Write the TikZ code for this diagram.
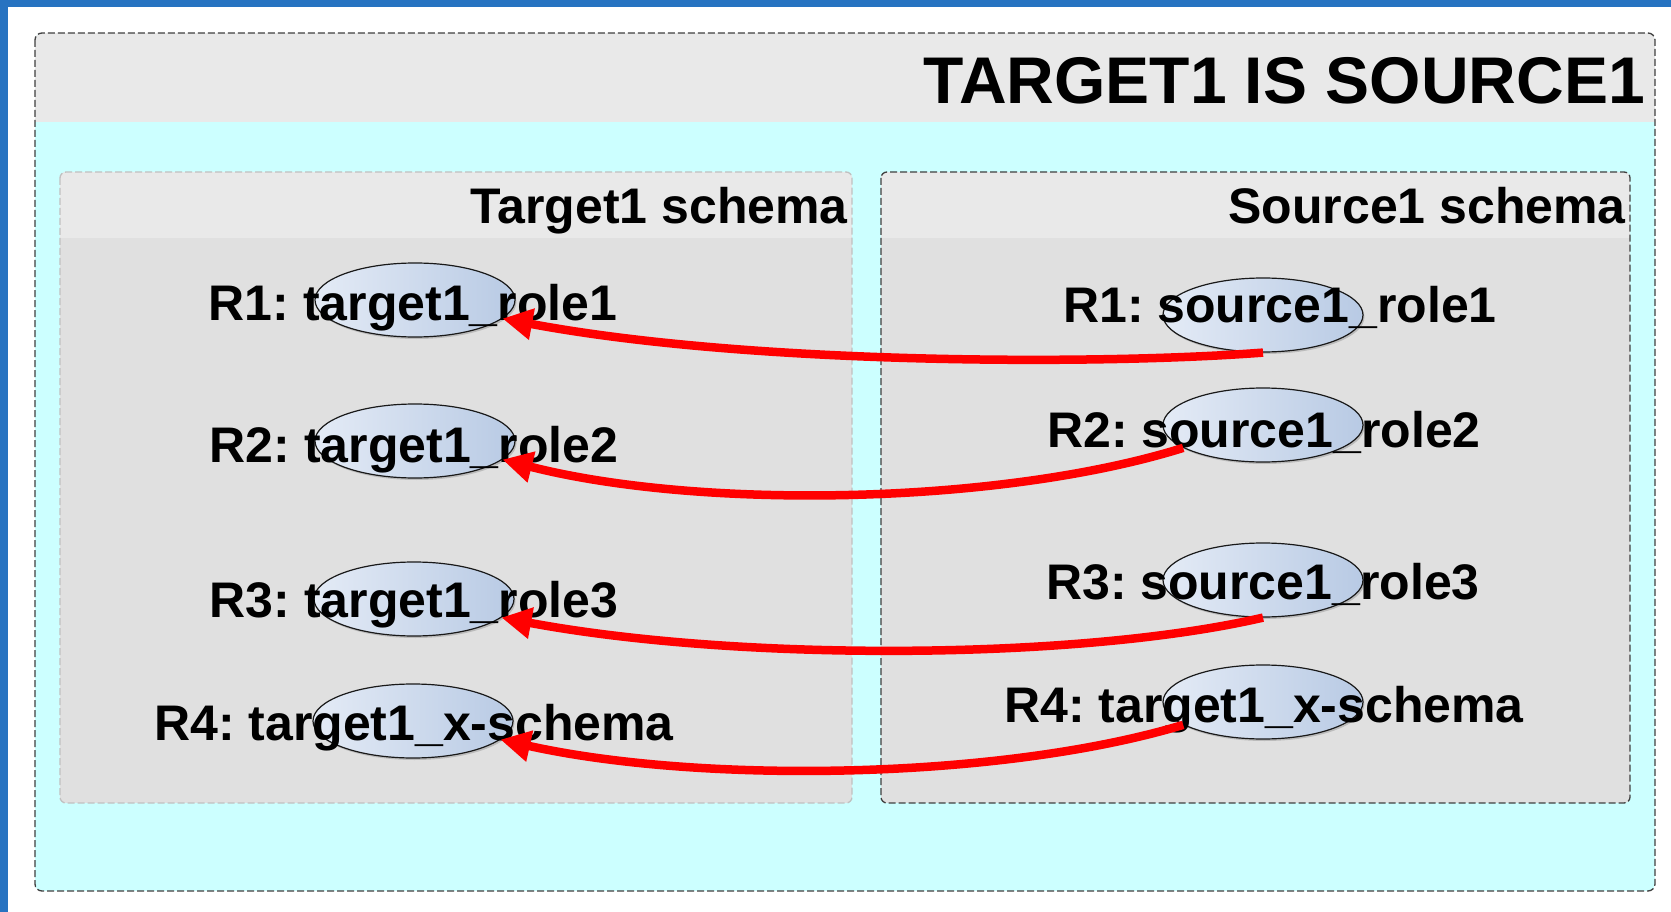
\documentclass[tikz,border=0pt]{standalone}
\usepackage{fontspec}
\setmainfont{Liberation Sans}
\usetikzlibrary{arrows.meta,shapes.geometric,shadows}
\definecolor{bandblue}{RGB}{39,115,193}
\definecolor{hdrgrey}{RGB}{233,233,233}
\definecolor{bodygrey}{RGB}{224,224,224}
\definecolor{cyanbg}{RGB}{204,255,255}
\definecolor{dashdark}{RGB}{64,64,64}
\definecolor{dashlight}{RGB}{192,192,192}
\definecolor{ellL}{RGB}{228,235,246}
\definecolor{ellR}{RGB}{184,202,228}
\frenchspacing
\begin{document}
\begin{tikzpicture}[x=1pt,y=-1pt,
  role/.style={ellipse, draw=black!90, line width=1.2pt, left color=ellL, right color=ellR,
    minimum width=200pt, minimum height=74pt, inner sep=0pt,
    drop shadow={shadow xshift=1.5pt, shadow yshift=-2pt, opacity=0.3, fill=black!60}},
  lbl/.style={font=\fontsize{50}{60}\selectfont\bfseries, anchor=base, inner sep=0pt},
  hdr/.style={font=\fontsize{50}{60}\selectfont\bfseries, anchor=base east, inner sep=0pt},
  link/.style={draw=red, line width=8.5pt, -{Triangle[length=30pt,width=30pt]}},
  dashbox/.style={dash pattern=on 7pt off 3pt, line width=1.3pt, rounded corners=7pt}
]
\useasboundingbox (0,0) rectangle (1671,912);
\fill[white] (0,0) rectangle (1671,912);
\fill[bandblue] (0,0) rectangle (1671,7);
\fill[bandblue] (0,0) rectangle (8,912);

% outer box
\begin{scope}
  \clip[rounded corners=7pt] (35,33) rectangle (1655,891);
  \fill[cyanbg] (35,33) rectangle (1655,891);
  \fill[hdrgrey] (35,33) rectangle (1655,122);
\end{scope}
\draw[dashbox, draw=dashdark] (35,33) rectangle (1655,891);
\node[font=\fontsize{66}{76}\selectfont\bfseries, anchor=base east, inner sep=0pt] (title) at (1645,104) {TARGET1 IS SOURCE1};

% left inner box
\begin{scope}
  \clip[rounded corners=6pt] (60,172) rectangle (852,803);
  \fill[bodygrey] (60,172) rectangle (852,803);
  \fill[hdrgrey] (60,172) rectangle (852,238);
\end{scope}
\draw[dashbox, draw=dashlight, rounded corners=6pt] (60,172) rectangle (852,803);
\node[hdr] (tschema) at (848,224) {Target1 schema};

% right inner box
\begin{scope}
  \clip[rounded corners=6pt] (881,172) rectangle (1630,803);
  \fill[bodygrey] (881,172) rectangle (1630,803);
  \fill[hdrgrey] (881,172) rectangle (1630,238);
\end{scope}
\draw[dashbox, draw=dashdark, rounded corners=6pt] (881,172) rectangle (1630,803);
\node[hdr] (sschema) at (1626,224) {Source1 schema};

% ellipses
\node[role] (T1) at (415,300) {};
\node[role] (T2) at (415,441) {};
\node[role] (T3) at (414,599) {};
\node[role] (T4) at (413,721) {};
\node[role] (S1) at (1263,315) {};
\node[role] (S2) at (1263,425) {};
\node[role] (S3) at (1263,580) {};
\node[role] (S4) at (1263,702) {};

% labels
\node[lbl] (tl1) at (413,320) {R1: target1\_role1};
\node[lbl] (tl2) at (414,462) {R2: target1\_role2};
\node[lbl] (tl3) at (414,617) {R3: target1\_role3};
\node[lbl] (tl4) at (414,740) {R4: target1\_x-schema};
\node[lbl] (sl1) at (1280,322) {R1: source1\_role1};
\node[lbl] (sl2) at (1264,447) {R2: source1\_role2};
\node[lbl] (sl3) at (1263,599) {R3: source1\_role3};
\node[lbl] (sl4) at (1264,722) {R4: target1\_x-schema};

% connectors
\draw[link] (S1.south) .. controls (1100,365) and (750,365) .. (T1.-12);
\draw[link] (S2.196) .. controls (1000,505) and (700,510) .. (T2.-12);
\draw[link] (S3.south) .. controls (1080,660) and (740,662) .. (T3.-12);
\draw[link] (S4.196) .. controls (1000,780) and (700,784) .. (T4.-12);
\end{tikzpicture}
\end{document}
